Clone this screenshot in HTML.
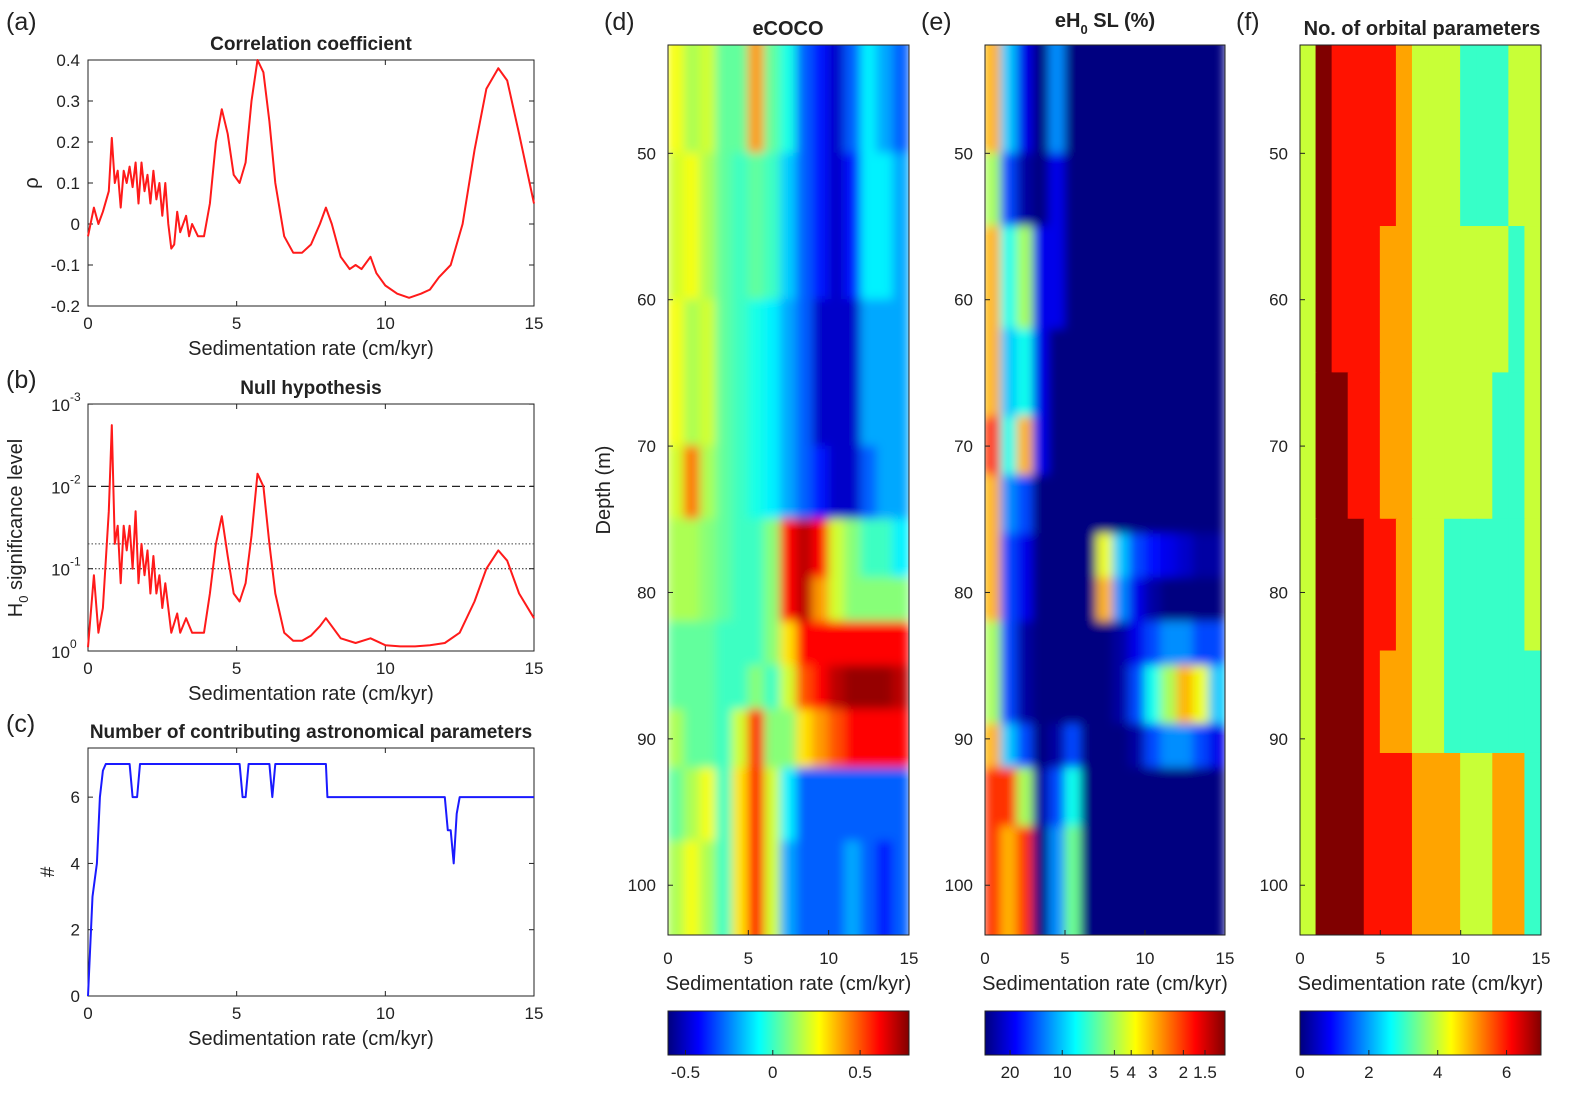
<!DOCTYPE html>
<html><head><meta charset="utf-8">
<style>
html,body{margin:0;padding:0;background:#fff;}
svg{display:block;font-family:"Liberation Sans",Arial,sans-serif;}
</style></head>
<body>
<svg id="fig" width="1584" height="1095" viewBox="0 0 1584 1095" xmlns="http://www.w3.org/2000/svg">
<defs>
<filter id="blur" x="0" y="0" width="1" height="1"><feGaussianBlur stdDeviation="5" edgeMode="duplicate"/></filter>
<clipPath id="clipD"><rect x="668" y="45" width="241" height="890"/></clipPath>
<clipPath id="clipE"><rect x="985" y="45" width="240" height="890"/></clipPath>
<clipPath id="clipF"><rect x="1300" y="45" width="241" height="890"/></clipPath>
</defs>
<g id="root"></g>
</svg>
<script>
// ---------- DATA ----------
const rhoX=[0,0.2,0.35,0.5,0.7,0.8,0.9,1.0,1.1,1.2,1.3,1.4,1.5,1.6,1.7,1.8,1.9,2.0,2.1,2.2,2.3,2.4,2.5,2.6,2.7,2.8,2.9,3.0,3.1,3.3,3.4,3.5,3.7,3.9,4.1,4.3,4.5,4.7,4.9,5.1,5.3,5.5,5.7,5.9,6.1,6.3,6.6,6.9,7.2,7.5,7.8,8.0,8.2,8.5,8.8,9.0,9.2,9.5,9.7,10.0,10.4,10.8,11.2,11.5,11.8,12.2,12.6,13.0,13.4,13.8,14.1,14.5,15];
const rhoY=[-0.03,0.04,0.0,0.03,0.08,0.21,0.1,0.13,0.04,0.13,0.1,0.14,0.09,0.15,0.05,0.15,0.08,0.12,0.05,0.13,0.06,0.10,0.02,0.1,0.0,-0.06,-0.05,0.03,-0.02,0.02,-0.03,0.0,-0.03,-0.03,0.05,0.2,0.28,0.22,0.12,0.1,0.15,0.3,0.4,0.37,0.25,0.1,-0.03,-0.07,-0.07,-0.05,0.0,0.04,0.0,-0.08,-0.11,-0.1,-0.11,-0.08,-0.12,-0.15,-0.17,-0.18,-0.17,-0.16,-0.13,-0.1,0.0,0.18,0.33,0.38,0.35,0.22,0.05];
const h0X=[0,0.2,0.35,0.5,0.7,0.8,0.9,1.0,1.1,1.2,1.3,1.4,1.5,1.6,1.7,1.8,1.9,2.0,2.1,2.2,2.3,2.4,2.5,2.6,2.8,3.0,3.1,3.3,3.5,3.7,3.9,4.1,4.3,4.5,4.7,4.9,5.1,5.3,5.5,5.7,5.9,6.1,6.3,6.6,6.9,7.2,7.5,7.8,8.0,8.2,8.5,9.0,9.5,10,10.5,11,11.5,12,12.5,13,13.4,13.8,14.1,14.5,15];
const h0Y=[0.9,0.12,0.6,0.3,0.02,0.0018,0.05,0.03,0.15,0.03,0.06,0.03,0.1,0.02,0.15,0.05,0.12,0.06,0.2,0.07,0.2,0.12,0.3,0.15,0.6,0.35,0.6,0.4,0.6,0.6,0.6,0.2,0.05,0.023,0.07,0.2,0.25,0.15,0.04,0.007,0.01,0.05,0.2,0.6,0.75,0.75,0.65,0.5,0.4,0.5,0.7,0.8,0.7,0.85,0.88,0.88,0.85,0.8,0.6,0.25,0.1,0.06,0.08,0.2,0.4];
const nX=[0,0.1,0.15,0.3,0.4,0.5,0.6,1.4,1.5,1.65,1.75,5.1,5.2,5.3,5.4,6.1,6.2,6.3,8.0,8.05,12.0,12.1,12.2,12.3,12.4,12.5,15];
const nY=[0,2,3,4,6,6.8,7,7,6,6,7,7,6,6,7,7,6,7,7,6,6,5,5,4,5.5,6,6];
const depthEdgesD=[42,50,60,70,75,79,82,85,88,92,97,104];
const ecoco=[
[0.25,0.15,0.2,0.05,0.05,0.4,0.05,-0.05,-0.3,-0.4,-0.5,-0.3,-0.1,-0.2,-0.3],
[0.2,0.25,0.15,0.05,0.0,0.05,0.0,-0.15,-0.3,-0.4,-0.5,-0.4,-0.1,-0.1,-0.2],
[0.25,0.15,0.2,0.05,0.0,-0.05,-0.1,-0.2,-0.3,-0.5,-0.5,-0.5,-0.2,-0.2,-0.2],
[0.2,0.45,0.15,0.05,0.0,-0.05,-0.1,-0.2,-0.3,-0.4,-0.5,-0.5,-0.3,-0.2,-0.2],
[0.15,0.15,0.1,0.05,0.0,0.0,0.1,0.6,0.7,0.6,0.2,0.1,0.0,0.0,-0.1],
[0.15,0.15,0.1,0.05,0.0,0.0,0.1,0.6,0.7,0.4,0.2,0.1,0.1,0.1,0.1],
[0.05,0.05,0.05,0.0,0.0,0.0,0.1,0.3,0.6,0.6,0.6,0.6,0.6,0.6,0.6],
[0.05,0.05,0.05,0.0,0.0,0.1,0.0,0.2,0.5,0.6,0.7,0.75,0.75,0.75,0.7],
[0.15,0.05,0.05,0.0,0.2,0.6,0.1,0.1,0.3,0.4,0.5,0.6,0.6,0.6,0.6],
[0.05,0.15,0.25,0.0,0.3,0.6,0.2,-0.1,-0.3,-0.3,-0.3,-0.3,-0.3,-0.3,-0.3],
[0.15,0.25,0.15,0.0,0.3,0.6,0.2,-0.2,-0.3,-0.3,-0.3,-0.2,-0.3,-0.4,-0.3]];
const depthEdgesE=[42,50,55,62,68,72,76,79,82,85,89,92,96,104];
const eh0=[
[3,10,20,28,12,28,28,28,28,28,28,28,28,28,28],
[5,15,25,28,20,28,28,28,28,28,28,28,28,28,28],
[3,8,5,20,20,28,28,28,28,28,28,28,28,28,28],
[3,10,8,20,28,28,28,28,28,28,28,28,28,28,28],
[2,8,3,20,28,28,28,28,28,28,28,28,28,28,28],
[3,12,15,28,28,28,28,28,28,28,28,28,28,28,28],
[3,15,20,28,28,28,28,4,10,15,18,20,22,25,25],
[3,15,20,28,28,28,28,3,12,20,25,28,28,28,28],
[5,15,25,28,28,28,28,28,25,20,15,12,12,15,15],
[5,15,25,28,28,28,28,28,25,15,8,5,3,4,10],
[3,10,15,28,25,15,28,28,28,25,15,12,12,15,20],
[2,2,5,25,15,8,28,28,28,28,28,28,28,28,28],
[2,3,2,28,12,6,28,28,28,28,28,28,28,28,28]];
const depthEdgesF=[42,55,65,75,84,91,104];
const norb=[
[4,7,6,6,6,6,5,4,4,4,3,3,3,4,4],
[4,7,6,6,6,5,5,4,4,4,4,4,4,3,4],
[4,7,7,6,6,5,5,4,4,4,4,4,3,3,4],
[4,7,7,7,6,6,5,4,4,3,3,3,3,3,4],
[4,7,7,7,6,5,5,4,4,3,3,3,3,3,3],
[4,7,7,7,6,6,6,5,5,5,4,4,5,5,3]];
const xTicks=[0,5,10,15];
const depthTicks=[50,60,70,80,90,100];

// ---------- helpers ----------
const NS="http://www.w3.org/2000/svg";
const root=document.getElementById('root');
function mk(tag,attrs,parent){const e=document.createElementNS(NS,tag);for(const k in attrs)e.setAttribute(k,attrs[k]);(parent||root).appendChild(e);return e;}
function txt(s,x,y,size,anchor,parent,extra){const e=mk('text',Object.assign({x:x,y:y,'font-size':size,'text-anchor':anchor||'middle',fill:'#222'},extra||{}),parent);e.textContent=s;return e;}
function jet(t){t=Math.max(0,Math.min(1,t));const r=Math.max(0,Math.min(1,1.5-Math.abs(4*t-3)));const g=Math.max(0,Math.min(1,1.5-Math.abs(4*t-2)));const b=Math.max(0,Math.min(1,1.5-Math.abs(4*t-1)));return `rgb(${Math.round(r*255)},${Math.round(g*255)},${Math.round(b*255)})`;}
function lin(d0,d1,r0,r1){return v=>r0+(v-d0)/(d1-d0)*(r1-r0);}

// ---------- line panels ----------
function linePanel(o){
  const g=mk('g',{});
  
  
  const X=lin(0,15,o.x0,o.x1);
  const Y=o.Y;
  mk('rect',{x:o.x0,y:o.y0,width:o.x1-o.x0,height:o.y1-o.y0,fill:'none',stroke:'#222','stroke-width':1},g);
  xTicks.forEach(t=>{const x=X(t);mk('line',{x1:x,x2:x,y1:o.y1,y2:o.y1-5,stroke:'#222'},g);mk('line',{x1:x,x2:x,y1:o.y0,y2:o.y0+5,stroke:'#222'},g);
    const tl=txt(String(t),x,o.y1+23,17,'middle',g);});
  const xl=txt('Sedimentation rate (cm/kyr)',(o.x0+o.x1)/2,o.y1+49,20,'middle',g);
  
  const tt=txt(o.title,(o.x0+o.x1)/2+o.titleDx,o.y0-10,19,'middle',g,{'font-weight':'bold'});
  
  const pl=txt(o.letter,o.lx,o.ly,25,'start',g);
  
  return {g,X,Y};
}
function path(xs,ys,X,Y,color,g,name){let d='';xs.forEach((v,i)=>{d+=(i?'L':'M')+X(v).toFixed(1)+','+Y(ys[i]).toFixed(1);});
  const p=mk('path',{d:d,fill:'none',stroke:color,'stroke-width':2,'stroke-linejoin':'round'},g);
  }

// (a)
{const Y=lin(-0.2,0.4,306,60);
 const P=linePanel({name:'panel-a-correlation',x0:88,x1:534,y0:60,y1:306,Y:Y,title:'Correlation coefficient',titleDx:0,letter:'(a)',lx:6,ly:30});
 [-0.2,-0.1,0,0.1,0.2,0.3,0.4].forEach(t=>{const y=Y(t);mk('line',{x1:88,x2:93,y1:y,y2:y,stroke:'#222'},P.g);mk('line',{x1:534,x2:529,y1:y,y2:y,stroke:'#222'},P.g);
   const l=txt(String(t),80,y+6,17,'end',P.g);});
 const yl=txt('ρ',0,0,20,'middle',P.g,{transform:'translate(38,183) rotate(-90)'});
 path(rhoX,rhoY,P.X,Y,'#ff1a1a',P.g,'rho-line');}
// (b)
{const Y=v=>651+Math.log10(v)*82.3;
 const P=linePanel({name:'panel-b-null-hypothesis',x0:88,x1:534,y0:404,y1:651,Y:Y,title:'Null hypothesis',titleDx:0,letter:'(b)',lx:6,ly:388});
 [[0.001,'-3'],[0.01,'-2'],[0.1,'-1'],[1,'0']].forEach(([t,e])=>{const y=Y(t);mk('line',{x1:88,x2:93,y1:y,y2:y,stroke:'#222'},P.g);mk('line',{x1:534,x2:529,y1:y,y2:y,stroke:'#222'},P.g);
   const l=txt('10',70,y+7,17,'end',P.g);
   const s=txt(e,70,y-3,12,'start',P.g);});
 const yl=mk('text',{transform:'translate(22,528) rotate(-90)','font-size':20,'text-anchor':'middle',fill:'#222'},P.g);
 yl.innerHTML='H<tspan font-size="13" dy="6">0</tspan><tspan dy="-6"> significance level</tspan>';
 
 const l1=mk('line',{x1:88,x2:534,y1:Y(0.01),y2:Y(0.01),stroke:'#222','stroke-dasharray':'8,5','stroke-width':1.3},P.g);
 const l2=mk('line',{x1:88,x2:534,y1:Y(0.05),y2:Y(0.05),stroke:'#444','stroke-dasharray':'1.5,2'},P.g);
 const l3=mk('line',{x1:88,x2:534,y1:Y(0.1),y2:Y(0.1),stroke:'#222','stroke-dasharray':'1.5,2'},P.g);
 path(h0X,h0Y,P.X,Y,'#ff1a1a',P.g,'h0-line');}
// (c)
{const Y=lin(0,7,996,764);
 const P=linePanel({name:'panel-c-parameters',x0:88,x1:534,y0:748,y1:996,Y:Y,title:'Number of contributing astronomical parameters',titleDx:0,letter:'(c)',lx:6,ly:732});
 [0,2,4,6].forEach(t=>{const y=Y(t);mk('line',{x1:88,x2:93,y1:y,y2:y,stroke:'#222'},P.g);mk('line',{x1:534,x2:529,y1:y,y2:y,stroke:'#222'},P.g);
   const l=txt(String(t),80,y+6,17,'end',P.g);});
 const yl=txt('#',0,0,19,'middle',P.g,{transform:'translate(54,872) rotate(-90)'});
 path(nX,nY,P.X,Y,'#1a1aff',P.g,'parameter-count-line');}

// ---------- heatmaps ----------
function heat(o){
  const g=mk('g',{});
  
  
  const X=lin(0,15,o.x0,o.x1), D=lin(42.6,103.4,45,935);
  const hg=mk('g',{'clip-path':`url(#${o.clip})`},g);
  const inner=mk('g',o.blur?{filter:'url(#blur)'}:{},hg);
  mk('rect',{x:o.x0,y:45,width:o.x1-o.x0,height:890,fill:o.bg},inner);
  o.data.forEach((row,i)=>row.forEach((v,j)=>{
    const r=mk('rect',{x:X(j)-0.5,y:D(o.edges[i])-0.5,width:X(j+1)-X(j)+1,height:D(o.edges[i+1])-D(o.edges[i])+1,fill:jet(o.norm(v))},inner);
    
    
  }));
  mk('rect',{x:o.x0,y:45,width:o.x1-o.x0,height:890,fill:'none',stroke:'#222'},g);
  xTicks.forEach(t=>{const x=X(t);mk('line',{x1:x,x2:x,y1:935,y2:930,stroke:'#222'},g);
    const l=txt(String(t),x,964,17,'middle',g);});
  depthTicks.forEach(t=>{const y=D(t);mk('line',{x1:o.x0,x2:o.x0+5,y1:y,y2:y,stroke:'#222'},g);
    const l=txt(String(t),o.x0-12,y+6,17,'end',g);});
  const xl=txt('Sedimentation rate (cm/kyr)',(o.x0+o.x1)/2,990,20,'middle',g);
  const pl=txt(o.letter,o.x0-64,30,25,'start',g);
  const cb=mk('g',{},g);
  const w=o.x1-o.x0;
  for(let k=0;k<w;k++){mk('rect',{x:o.x0+k,y:1011,width:1.5,height:44,fill:jet(k/w)},cb);}
  mk('rect',{x:o.x0,y:1011,width:w,height:44,fill:'none',stroke:'#222'},cb);
  o.cbTicks.forEach((t,i)=>{const x=o.x0+o.cbPos(t)*w;mk('line',{x1:x,x2:x,y1:1055,y2:1050,stroke:'#222'},cb);
    const l=txt(o.cbLabels[i],x,1078,17,'middle',cb);});
  return g;
}
const dNorm=v=>(v+0.6)/1.38;
heat({name:'panel-d-ecoco',x0:668,x1:909,clip:'clipD',blur:true,bg:'#00c0ff',data:ecoco,edges:depthEdgesD,norm:dNorm,letter:'(d)',
  cbTicks:[-0.5,0,0.5],cbLabels:['-0.5','0','0.5'],cbPos:dNorm});
const eNorm=v=>(Math.log(27.9)-Math.log(v))/(Math.log(27.9)-Math.log(1.15));
heat({name:'panel-e-eh0',x0:985,x1:1225,clip:'clipE',blur:true,bg:'#00008f',data:eh0,edges:depthEdgesE,norm:eNorm,letter:'(e)',
  cbTicks:[20,10,5,4,3,2,1.5],cbLabels:['20','10','5','4','3','2','1.5'],cbPos:eNorm});
const fNorm=v=>v/7;
heat({name:'panel-f-orbital',x0:1300,x1:1541,clip:'clipF',blur:false,bg:'#c8ff40',data:norb,edges:depthEdgesF,norm:fNorm,letter:'(f)',
  cbTicks:[0,2,4,6],cbLabels:['0','2','4','6'],cbPos:fNorm});
{const t=txt('eCOCO',788,35,20,'middle',root,{'font-weight':'bold'});
 const e=mk('text',{x:1105,y:27,'font-size':20,'text-anchor':'middle','font-weight':'bold',fill:'#222'});
 e.innerHTML='eH<tspan font-size="13" dy="7">0</tspan><tspan dy="-7"> SL (%)</tspan>';
 
 const f=txt('No. of orbital parameters',1422,35,20,'middle',root,{'font-weight':'bold'});
 const dl=txt('Depth (m)',0,0,20,'middle',root,{transform:'translate(610,490) rotate(-90)'});}
</script>
</body></html>
